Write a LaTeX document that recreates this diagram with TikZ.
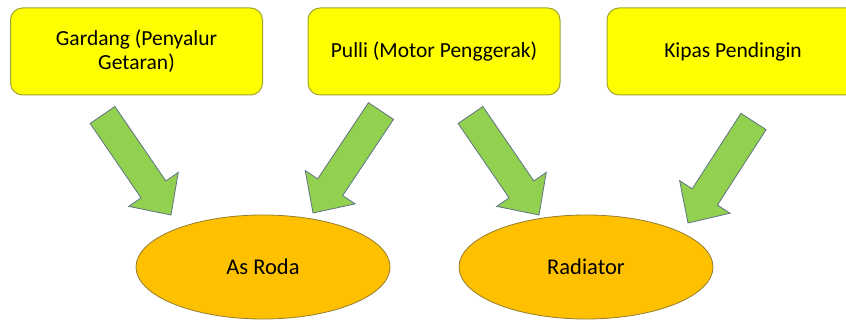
\documentclass[tikz,border=0pt]{standalone}
\usepackage{fontspec}
\setmainfont{Carlito}
\usetikzlibrary{calc,shapes.geometric}

\definecolor{boxyellow}{RGB}{255,255,0}
\definecolor{boxline}{RGB}{160,165,50}
\definecolor{ovalfill}{RGB}{255,192,0}
\definecolor{ovalline}{RGB}{150,125,45}
\definecolor{arrowgreen}{RGB}{146,208,80}
\definecolor{arrowline}{RGB}{95,115,130}

\tikzset{
  partbox/.style={draw=boxline,fill=boxyellow,rounded corners=12pt,line width=1pt,
    minimum width=252pt,minimum height=87pt,align=center,inner sep=0pt,
    font=\fontsize{21.5}{24}\selectfont},
  partoval/.style={ellipse,draw=ovalline,fill=ovalfill,line width=0.8pt,
    minimum width=254pt,minimum height=104pt,inner sep=0pt,
    font=\fontsize{22.5}{24}\selectfont},
  blockarr/.style={draw=arrowline,fill=arrowgreen,line width=0.8pt,line join=miter}
}

% block arrow from tail #1 to tip #2
\newcommand{\blockarrow}[2]{%
  \coordinate (hb) at ($(#2)!31pt!(#1)$);
  \draw[blockarr] ($(#1)!15pt!90:(#2)$) -- ($(hb)!15pt!90:(#2)$)
    -- ($(hb)!30pt!90:(#2)$) -- (#2) -- ($(hb)!30pt!-90:(#2)$)
    -- ($(hb)!15pt!-90:(#2)$) -- ($(#1)!15pt!-90:(#2)$) -- cycle;
}

\begin{document}
\begin{tikzpicture}[x=1pt,y=-1pt]
	\useasboundingbox (0,0) rectangle (846,320);
	\clip (0,0) rectangle (846,320);
	\fill[white] (0,0) rectangle (846,320);

	\node[partbox] (gardang) at (136.5,51.5) {Gardang (Penyalur\\Getaran)};
	\node[partbox] (pulli) at (434,51.5) {Pulli (Motor Penggerak)};
	\node[partbox] (kipas) at (733,51.5) {Kipas Pendingin};

	\node[partoval] (asroda) at (263,267) {As Roda};
	\node[partoval] (radiator) at (586,267) {Radiator};

	\coordinate (t1) at (102.5,115);
	\coordinate (h1) at (171,215);
	\coordinate (t2) at (381,111);
	\coordinate (h2) at (313,213);
	\coordinate (t3) at (470.5,115);
	\coordinate (h3) at (539,215);
	\coordinate (t4) at (753.5,121.5);
	\coordinate (h4) at (688,223);

	\blockarrow{t1}{h1}
	\blockarrow{t2}{h2}
	\blockarrow{t3}{h3}
	\blockarrow{t4}{h4}
\end{tikzpicture}
\end{document}
